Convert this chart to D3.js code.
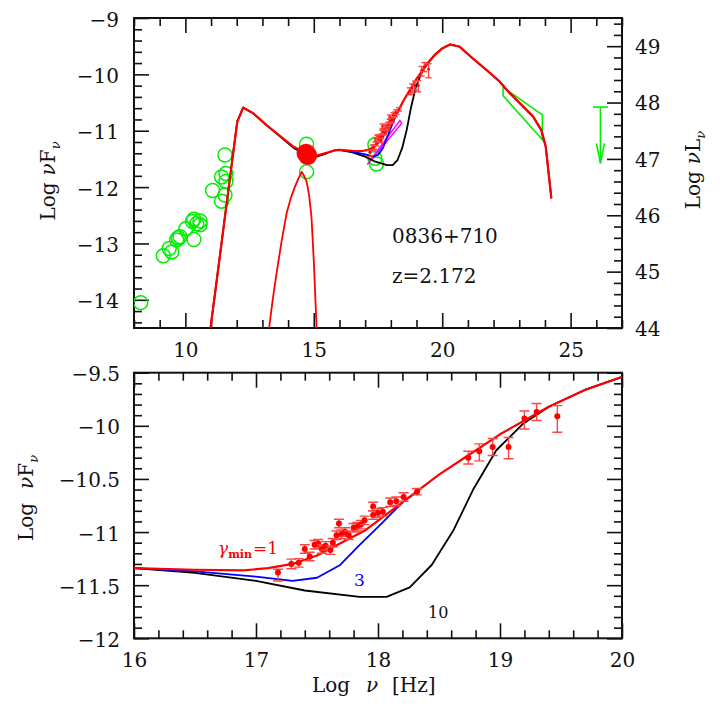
<!DOCTYPE html>
<html><head><meta charset="utf-8">
<script src="https://cdn.jsdelivr.net/npm/d3@7"></script>
<style>html,body{margin:0;padding:0;background:#fff;} svg{display:block;font-family:"DejaVu Serif",serif;}</style>
</head><body><svg id="c" width="727" height="727"></svg>
<script>
// ---------------- DATA ----------------
// tick values
const topXTicks = [10, 15, 20, 25];
const topYTicks = [-14, -13, -12, -11, -10, -9];
const topRTicks = [44, 45, 46, 47, 48, 49];
const botXTicks = [16, 17, 18, 19, 20];
const botYTicks = [-12, -11.5, -11, -10.5, -10, -9.5];

// model curves (log nu, log nuFnu)
const syncRed = [[10.98,-14.5],[12.02,-10.84],[12.25,-10.59],[12.64,-10.69],[13.16,-10.90],[13.68,-11.09],[14.2,-11.28],[14.72,-11.41],[15.11,-11.44],[15.5,-11.39],[15.8,-11.35]];
const syncBlack = [[10.98,-14.5],[12.02,-10.84],[12.25,-10.59],[12.64,-10.69],[13.16,-10.90],[13.68,-11.10],[14.2,-11.30],[14.72,-11.44],[15.11,-11.46],[15.5,-11.40],[15.8,-11.35]];
const diskBump = [[13.26,-14.5],[13.4,-14.0],[13.55,-13.53],[13.75,-12.95],[13.94,-12.47],[14.1,-12.2],[14.26,-12.0],[14.4,-11.85],[14.53,-11.73],[14.62,-11.8],[14.72,-11.9],[14.82,-12.15],[14.91,-12.53],[15.0,-13.3],[15.11,-14.5]];
const xRed = [[16.0,-11.34],[16.5,-11.355],[16.9,-11.36],[17.1,-11.34],[17.3,-11.3],[17.5,-11.22],[17.7,-11.1],[17.9,-10.98],[18.2,-10.72],[18.5,-10.46],[18.75,-10.27],[19.0,-10.08],[19.2,-9.95],[19.4,-9.82],[19.7,-9.66],[20.0,-9.54]];
const xBlue = [[16.0,-11.34],[16.5,-11.37],[17.0,-11.42],[17.3,-11.46],[17.5,-11.43],[17.69,-11.31],[17.85,-11.12],[18.02,-10.93],[18.21,-10.71],[18.3,-10.64]];
const xBlack = [[16.0,-11.34],[16.5,-11.385],[17.0,-11.46],[17.4,-11.55],[17.85,-11.61],[18.07,-11.61],[18.26,-11.52],[18.44,-11.31],[18.62,-10.98],[18.78,-10.6],[18.97,-10.23],[19.19,-9.98],[19.4,-9.82],[19.7,-9.66],[20.0,-9.54]];
const highPart = [[20.3,-9.47],[20.68,-9.51],[21.2,-9.72],[21.72,-9.92],[22.24,-10.13],[22.6,-10.32],[23.02,-10.51],[23.54,-10.75],[23.86,-10.99],[24.03,-11.28],[24.25,-12.2]];

// observations
const greenRadio = [[8.26,-14.05],[9.14,-13.22],[9.37,-13.09],[9.47,-13.15],[9.66,-12.94],[9.72,-12.9],[9.79,-12.88],[10.02,-12.74],[10.33,-12.93],[10.28,-12.61],[10.33,-12.57],[10.57,-12.60],[10.57,-12.67],[10.44,-12.65],[11.06,-12.06],[11.41,-12.25],[11.54,-12.14],[11.41,-11.82],[11.58,-11.76],[11.58,-11.90],[11.54,-11.43]];
const greenOpt = [[14.72,-11.24],[14.72,-11.73]];
const greenX = [[17.38,-11.25],[17.38,-11.49],[17.44,-11.59]];
const redOpt = [[14.70,-11.40],[14.76,-11.44]];
// [log nu, log nuFnu, err down, err up]
const xrtData = [[17.18,-11.38,0.08,0.03],[17.29,-11.30,0.045,0.045],[17.35,-11.29,0.04,0.04],[17.40,-11.16,0.04,0.04],[17.44,-11.23,0.04,0.04],[17.48,-11.12,0.04,0.04],[17.51,-11.11,0.04,0.04],[17.54,-11.16,0.04,0.04],[17.57,-11.13,0.04,0.04],[17.61,-11.17,0.04,0.04],[17.63,-11.10,0.04,0.04],[17.66,-11.03,0.04,0.04],[17.68,-10.92,0.04,0.04],[17.70,-11.02,0.04,0.04],[17.73,-11.00,0.04,0.04],[17.76,-11.03,0.04,0.04],[17.80,-10.96,0.04,0.04],[17.83,-10.95,0.04,0.04],[17.86,-10.93,0.04,0.04],[17.89,-10.89,0.04,0.04],[17.96,-10.76,0.04,0.04],[17.96,-10.84,0.04,0.04],[18.00,-10.82,0.04,0.04],[18.04,-10.81,0.04,0.04],[18.10,-10.72,0.04,0.04],[18.15,-10.71,0.04,0.04],[18.21,-10.67,0.04,0.04],[18.32,-10.62,0.03,0.03]];
const batData = [[18.74,-10.30,0.06,0.06],[18.83,-10.24,0.09,0.07],[18.94,-10.20,0.08,0.08],[19.07,-10.20,0.11,0.09],[19.20,-9.93,0.10,0.07],[19.30,-9.87,0.08,0.08],[19.47,-9.91,0.15,0.10]];
const magentaBow = [[17.08,-11.60],[18.35,-10.82],[18.42,-10.87],[17.12,-11.58]];
const fermiBow = [[22.37,-10.23],[23.9,-10.72],[23.9,-11.16],[22.37,-10.38]];
const upperLimit = [[26.16,-10.58,-11.58]];

// ---------------- SCALES ----------------
const svg = d3.select("#c");
const xT = d3.scaleLinear([8,27],[134,622]);
const yT = d3.scaleLinear([-14.5,-9],[328,18]);
const yTR = d3.scaleLinear([44,49.5],[328,18]);
const xB = d3.scaleLinear([16,20],[134,622]);
const yB = d3.scaleLinear([-12,-9.5],[638.3,372.7]);

const FONT = "DejaVu Serif";
function ax(gen, scale, vals, size, fmt, pad, transform, dy) {
  const a = gen(scale).tickValues(vals).tickSizeInner(-size).tickSizeOuter(0).tickPadding(pad)
    .tickFormat(fmt || (() => ""));
  const g = svg.append("g").attr("transform", transform).call(a);
  g.select(".domain").remove();
  g.selectAll("line").attr("stroke", "#111").attr("stroke-width", 1.6);
  g.selectAll("text").attr("font-family", FONT).attr("font-size", 20).attr("fill", "#111");
  if (dy) g.selectAll("text").attr("dy", dy);
  return g;
}
const fmt = d3.format("~g");
const minorOf = (arr, majors) => arr.filter(v => !majors.some(m => Math.abs(m - v) < 1e-6));

// ---- top panel axes
const tXMin = minorOf(d3.range(8, 28), topXTicks);
const tYMin = minorOf(d3.range(-72, -44).map(i => i / 5), topYTicks);
const tRMin = minorOf(d3.range(220, 248).map(i => i / 5), topRTicks);
ax(d3.axisBottom, xT, topXTicks, 15, fmt, 14.5, "translate(0,328)");
ax(d3.axisBottom, xT, tXMin, 8, null, 0, "translate(0,328)");
ax(d3.axisTop, xT, topXTicks, 15, null, 0, "translate(0,18)");
ax(d3.axisTop, xT, tXMin, 8, null, 0, "translate(0,18)");
ax(d3.axisLeft, yT, topYTicks, 15, fmt, 15, "translate(134,0)", "0.40em");
ax(d3.axisLeft, yT, tYMin, 8, null, 0, "translate(134,0)");
ax(d3.axisRight, yTR, topRTicks, 15, fmt, 13, "translate(622,0)", "0.36em");
ax(d3.axisRight, yTR, tRMin, 8, null, 0, "translate(622,0)");

// ---- bottom panel axes
const bXMin = minorOf(d3.range(80, 101).map(i => i / 5), botXTicks);
const bYMin = minorOf(d3.range(-120, -94).map(i => i / 10), botYTicks);
ax(d3.axisBottom, xB, botXTicks, 15, fmt, 14.2, "translate(0,638.3)");
ax(d3.axisBottom, xB, bXMin, 8, null, 0, "translate(0,638.3)");
ax(d3.axisTop, xB, botXTicks, 15, null, 0, "translate(0,372.7)");
ax(d3.axisTop, xB, bXMin, 8, null, 0, "translate(0,372.7)");
ax(d3.axisLeft, yB, botYTicks, 15, fmt, 14, "translate(134,0)", "0.40em");
ax(d3.axisLeft, yB, bYMin, 8, null, 0, "translate(134,0)");
ax(d3.axisRight, yB, botYTicks, 15, null, 0, "translate(622,0)");
ax(d3.axisRight, yB, bYMin, 8, null, 0, "translate(622,0)");

// frames
svg.append("rect").attr("x", 134).attr("y", 18).attr("width", 488).attr("height", 310)
  .attr("fill", "none").attr("stroke", "#111").attr("stroke-width", 2);
svg.append("rect").attr("x", 134).attr("y", 372.7).attr("width", 488).attr("height", 265.6)
  .attr("fill", "none").attr("stroke", "#111").attr("stroke-width", 2);

// clip paths
const defs = svg.append("defs");
defs.append("clipPath").attr("id", "clipT").append("rect").attr("x", 134).attr("y", 18).attr("width", 488).attr("height", 310);
defs.append("clipPath").attr("id", "clipB").append("rect").attr("x", 134).attr("y", 372.7).attr("width", 488).attr("height", 265.6);

// ---------------- TOP PANEL ----------------
const gT = svg.append("g").attr("clip-path", "url(#clipT)");
const lineT = d3.line().x(d => xT(d[0])).y(d => yT(d[1]));
const lineB = d3.line().x(d => xB(d[0])).y(d => yB(d[1]));

function curve(g, gen, data, color, w) {
  g.append("path").attr("d", gen(data)).attr("fill", "none").attr("stroke", color)
    .attr("stroke-width", w).attr("stroke-linejoin", "round");
}

function circles(g, data, xs, ys, r, color) {
  g.selectAll(null).data(data).enter().append("circle")
    .attr("cx", d => xs(d[0])).attr("cy", d => ys(d[1])).attr("r", r)
    .attr("fill", "none").attr("stroke", color).attr("stroke-width", 1.5);
}
circles(gT, greenRadio, xT, yT, 7, "#00ee00");
circles(gT, greenOpt, xT, yT, 7, "#00ee00");
circles(gT, greenX, xT, yT, 7, "#00ee00");

// bowties
gT.append("path").attr("d", lineT(magentaBow) + "Z").attr("fill", "none").attr("stroke", "#ff00ff").attr("stroke-width", 1.5);
gT.append("path").attr("d", lineT(fermiBow) + "Z").attr("fill", "none").attr("stroke", "#00ee00").attr("stroke-width", 1.6);

// model curves
curve(gT, lineT, syncBlack.concat(xBlack, highPart), "#000", 1.8);
curve(gT, lineT, xBlue, "#0000ff", 1.8);
curve(gT, lineT, syncRed.concat(xRed, highPart), "#ff0000", 2.2);
curve(gT, lineT, diskBump, "#ff0000", 1.8);

// error bars
function errbars(g, data, xs, ys, cap, r) {
  const e = g.selectAll(null).data(data).enter().append("g");
  e.append("line").attr("x1", d => xs(d[0])).attr("x2", d => xs(d[0]))
    .attr("y1", d => ys(d[1] - d[2])).attr("y2", d => ys(d[1] + d[3]));
  e.append("line").attr("x1", d => xs(d[0]) - cap).attr("x2", d => xs(d[0]) + cap)
    .attr("y1", d => ys(d[1] - d[2])).attr("y2", d => ys(d[1] - d[2]));
  e.append("line").attr("x1", d => xs(d[0]) - cap).attr("x2", d => xs(d[0]) + cap)
    .attr("y1", d => ys(d[1] + d[3])).attr("y2", d => ys(d[1] + d[3]));
  e.selectAll("line").attr("stroke", "#ff4444").attr("stroke-width", 1.4);
  e.append("circle").attr("cx", d => xs(d[0])).attr("cy", d => ys(d[1])).attr("r", r).attr("fill", "#ff0000");
}
errbars(gT, xrtData.concat(batData), xT, yT, 3, 1.4);

// optical filled circles
gT.selectAll(null).data(redOpt).enter().append("circle")
  .attr("cx", d => xT(d[0])).attr("cy", d => yT(d[1])).attr("r", 9.5).attr("fill", "#ff0000");

// upper limit arrow
upperLimit.forEach(d => {
  const x = xT(d[0]), y1 = yT(d[1]), y2 = yT(d[2]);
  const g = gT.append("g").attr("stroke", "#00ee00").attr("stroke-width", 1.6).attr("fill", "none");
  g.append("line").attr("x1", x - 7.5).attr("x2", x + 7.5).attr("y1", y1).attr("y2", y1);
  g.append("line").attr("x1", x).attr("x2", x).attr("y1", y1).attr("y2", y2);
  g.append("path").attr("d", `M${x - 4},${y2 - 20}L${x},${y2}L${x + 4},${y2 - 20}`);
});

// labels top
svg.append("text").attr("x", 392).attr("y", 243).attr("font-family", FONT).attr("font-size", 20).attr("fill", "#111").text("0836+710");
svg.append("text").attr("x", 392).attr("y", 283).attr("font-family", FONT).attr("font-size", 20).attr("fill", "#111").text("z=2.172");

// axis titles
function ytitle(x, y, main, extraGap) {
  const t = svg.append("text").attr("transform", `translate(${x},${y}) rotate(-90)`)
    .attr("text-anchor", "middle").attr("font-family", FONT).attr("font-size", 20).attr("fill", "#111");
  t.append("tspan").text("Log");
  t.append("tspan").attr("dx", extraGap).attr("font-style", "italic").text("ν");
  t.append("tspan").text(main);
  t.append("tspan").attr("font-size", 13).attr("dy", 5).attr("font-style", "italic").text("ν");
}
ytitle(55, 181, "F", 7);
ytitle(700, 170, "L", 7);
ytitle(33, 498, "F", 14);

// ---------------- BOTTOM PANEL ----------------
const gB = svg.append("g").attr("clip-path", "url(#clipB)");
curve(gB, lineB, xBlack, "#000", 1.8);
curve(gB, lineB, xBlue, "#0000ff", 1.8);
curve(gB, lineB, xRed, "#ff0000", 2.2);
errbars(gB, xrtData.concat(batData), xB, yB, 5, 3);

// bottom labels
const gl = svg.append("text").attr("x", 218).attr("y", 554).attr("font-family", FONT).attr("font-size", 17).attr("fill", "#ff0000");
gl.append("tspan").attr("font-style", "italic").text("γ");
gl.append("tspan").attr("font-size", 11).attr("font-weight", "bold").attr("dy", 4).text("min");
gl.append("tspan").attr("dy", -4).attr("dx", 1).text("=1");
svg.append("text").attr("x", 354).attr("y", 586).attr("font-family", FONT).attr("font-size", 17).attr("fill", "#0000ff").text("3");
svg.append("text").attr("x", 428).attr("y", 618).attr("font-family", FONT).attr("font-size", 16).attr("fill", "#111").text("10");

const xt = svg.append("text").attr("y", 692).attr("font-family", FONT).attr("font-size", 20).attr("fill", "#111");
xt.append("tspan").attr("x", 312).text("Log");
xt.append("tspan").attr("x", 366).attr("font-style", "italic").text("ν");
xt.append("tspan").attr("x", 392).text("[Hz]");
</script></body></html>
